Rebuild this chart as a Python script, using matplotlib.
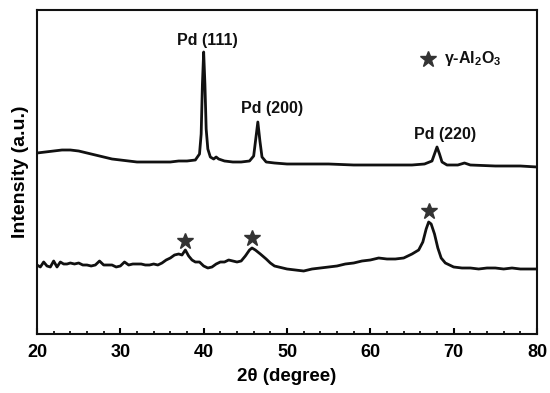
import matplotlib
matplotlib.use("Agg")
import matplotlib.pyplot as plt
from matplotlib.ticker import MultipleLocator

plt.rcParams['font.family'] = ['Liberation Sans', 'DejaVu Sans']
plt.rcParams['mathtext.fontset'] = 'custom'
plt.rcParams['mathtext.rm'] = 'Liberation Sans'
plt.rcParams['mathtext.bf'] = 'Liberation Sans:bold'

# Pd catalyst (upper curve)
x_top = [20, 21, 22, 23, 24, 25, 26, 27, 28, 29, 30, 31, 32, 33, 34, 35, 36, 37, 38, 39,
         39.5, 39.7, 39.85, 40.0, 40.15, 40.3, 40.5, 40.8, 41.2, 41.5, 41.8, 42.5, 43.5, 44.5,
         45.5, 46.0, 46.25, 46.5, 46.75, 47.0, 47.5, 48.5, 50, 52, 55, 58, 60, 63, 65, 66.5,
         67.4, 67.7, 68.0, 68.3, 68.6, 69.2, 70.5, 71.3, 72, 75, 78, 80]
y_top = [181, 182, 183, 184, 184, 183, 181, 179, 177, 175, 174, 173, 172, 172, 172, 172, 172, 173, 173, 174,
         180, 200, 250, 282, 250, 205, 185, 177, 175, 177, 175, 173, 172, 172,
         173, 178, 195, 212, 193, 177, 172, 171, 170, 170, 170, 169, 169, 169, 169, 170,
         173, 180, 187, 180, 172, 169, 169, 171, 169, 168, 168, 167]

# Support gamma-Al2O3 (lower curve)
x_bot = [20, 20.4, 20.8, 21.2, 21.6, 22.0, 22.4, 22.8, 23.2, 23.6, 24, 24.5, 25, 25.5, 26, 26.5,
         27, 27.5, 28, 28.5, 29, 29.5, 30, 30.5, 31, 31.5, 32, 32.5, 33, 33.5, 34, 34.5, 35,
         35.5, 36, 36.5, 37, 37.4, 37.8, 38.2, 38.6, 39, 39.5, 40, 40.5, 41, 41.5, 42, 42.5,
         43, 43.5, 44, 44.5, 45, 45.5, 45.8, 46.2, 46.8, 47.5, 48, 48.5, 49, 50, 51, 52, 53,
         54, 55, 56, 57, 58, 59, 60, 61, 62, 63, 64, 65, 65.8, 66.3, 66.7, 67.0, 67.3, 67.7,
         68.1, 68.5, 69, 70, 71, 72, 73, 74, 75, 76, 77, 78, 79, 80]
y_bot = [69, 67, 72, 68, 67, 73, 67, 72, 70, 70, 71, 70, 71, 69, 69, 68,
         69, 73, 69, 69, 69, 67, 68, 72, 69, 70, 70, 70, 69, 69, 70, 69, 71,
         74, 76, 79, 80, 79, 84, 78, 74, 72, 72, 68, 66, 67, 70, 72, 72,
         74, 73, 72, 73, 78, 84, 86, 84, 80, 75, 71, 68, 67, 65, 64, 63, 65,
         66, 67, 68, 70, 71, 73, 74, 76, 75, 75, 76, 80, 84, 92, 105, 112, 110, 100,
         86, 76, 71, 67, 66, 66, 65, 66, 66, 65, 66, 65, 65, 65]

star_x = [37.7, 45.8, 67.0]
star_y = [93, 96, 123]

peak_labels = ["Pd (111)", "Pd (200)", "Pd (220)"]
peak_label_x = [40.5, 48.2, 69.0]
peak_label_y = [294, 225, 199]

fig = plt.figure(figsize=(5.5, 3.93), dpi=100)
ax = fig.add_axes([37/550, 1 - 334/393, 500/550, 324/393])

ax.plot(x_top, y_top, color='#111111', lw=2.0)
ax.plot(x_bot, y_bot, color='#111111', lw=2.0)
ax.plot(star_x, star_y, linestyle='none', marker='*', ms=12, color='#333333')

for t, lx, ly in zip(peak_labels, peak_label_x, peak_label_y):
    ax.text(lx, ly, t, ha='center', va='center', fontsize=11.5, fontweight='bold', color='#111111')

ax.plot([66.9], [275], linestyle='none', marker='*', ms=12, color='#333333')
ax.text(68.8, 275, r'γ-Al$_\mathbf{2}$O$_\mathbf{3}$', ha='left', va='center', fontsize=11.5,
        fontweight='bold', color='#111111')

ax.set_xlim(20, 80)
ax.set_ylim(0, 324)
ax.set_yticks([])
ax.xaxis.set_major_locator(MultipleLocator(10))
ax.xaxis.set_minor_locator(MultipleLocator(2))
ax.tick_params(axis='x', which='major', direction='in', length=4, width=1.5, labelsize=13, pad=7)
ax.tick_params(axis='x', which='minor', direction='in', length=2.5, width=1.2)
for lab in ax.get_xticklabels():
    lab.set_fontweight('bold')
for s in ax.spines.values():
    s.set_linewidth(1.5)
    s.set_color('#111111')

ax.set_xlabel('2θ (degree)', fontsize=13.5, fontweight='bold', labelpad=5)
ax.set_ylabel('Intensity (a.u.)', fontsize=14, fontweight='bold', labelpad=6)

fig.savefig('out.png', dpi=100)
